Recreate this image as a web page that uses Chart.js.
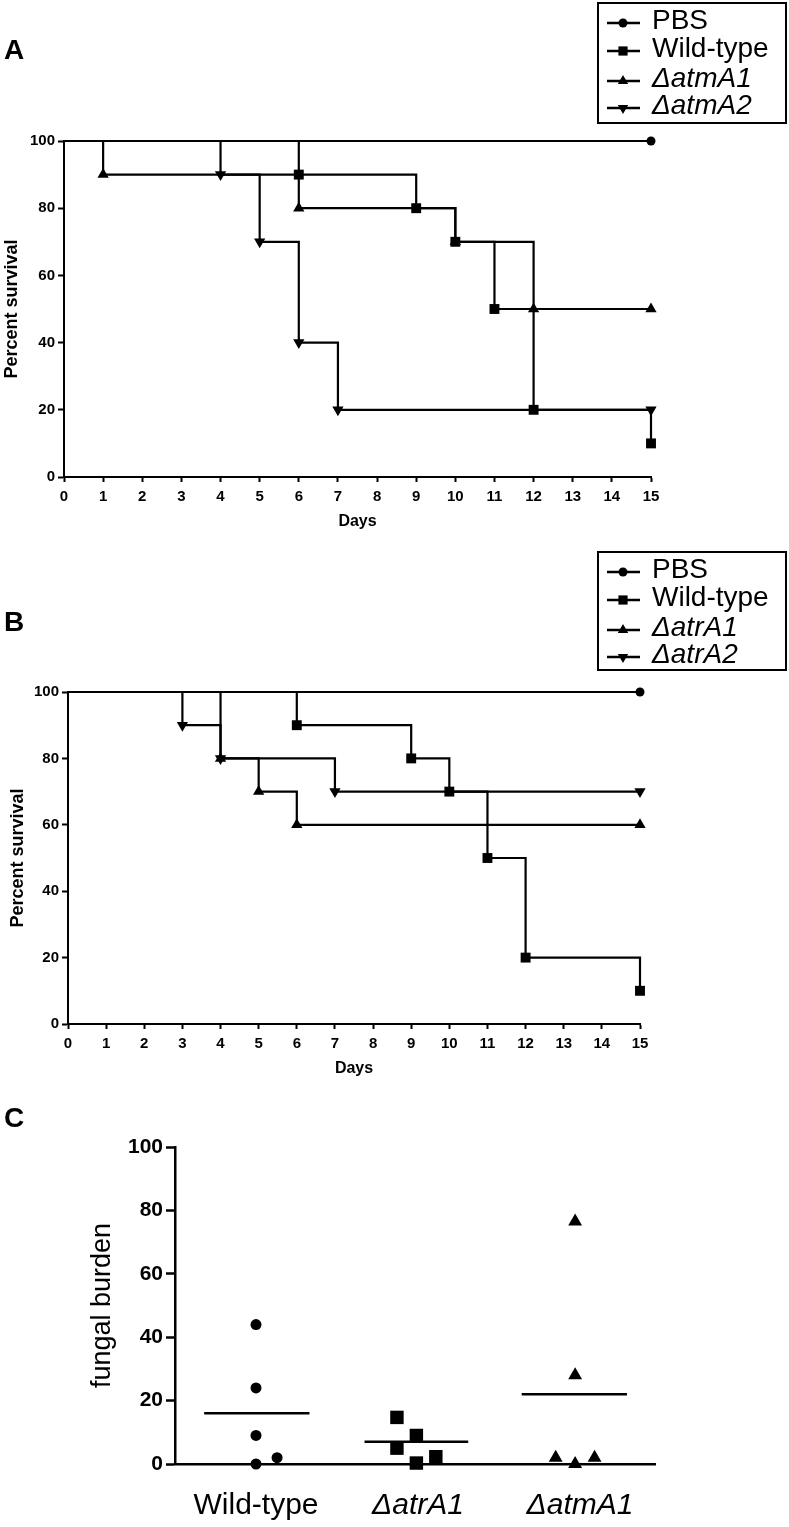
<!DOCTYPE html>
<html>
<head>
<meta charset="utf-8">
<title>Survival and fungal burden</title>
<script src="https://cdn.jsdelivr.net/npm/chart.js@4.4.1/dist/chart.umd.min.js"></script>
<style>
  body { margin: 0; background: #fff; width: 789px; height: 1527px; position: relative; overflow: hidden; }
  canvas { position: absolute; left: 0; }
  .panel { position: absolute; font: bold 28px Arial, "Liberation Sans", sans-serif; line-height: 28px; color: #000; }
</style>
</head>
<body>
<canvas id="chartA" width="789" height="545" style="top:0"></canvas>
<canvas id="chartB" width="789" height="545" style="top:545px"></canvas>
<canvas id="chartC" width="789" height="437" style="top:1090px"></canvas>
<div class="panel" style="left:4px;top:36px">A</div>
<div class="panel" style="left:4px;top:608px">B</div>
<div class="panel" style="left:4px;top:1104px">C</div>
<script>
// panel A: survival, atmA mutants
const daysPbsA = [0, 15];
const survPbsA = [100, 100];
const daysWtA = [0, 6, 9, 10, 11, 12, 15];
const survWtA = [100, 90, 80, 70, 50, 20, 10];
const daysAtmA1 = [0, 1, 6, 10, 12, 15];
const survAtmA1 = [100, 90, 80, 70, 50, 50];
const daysAtmA2 = [0, 4, 5, 6, 7, 15];
const survAtmA2 = [100, 90, 70, 40, 20, 20];
const labelsA = ['PBS', 'Wild-type', '\u0394atmA1', '\u0394atmA2'];

// panel B: survival, atrA mutants
const daysPbsB = [0, 15];
const survPbsB = [100, 100];
const daysWtB = [0, 6, 9, 10, 11, 12, 15];
const survWtB = [100, 90, 80, 70, 50, 20, 10];
const daysAtrA1 = [0, 4, 5, 6, 15];
const survAtrA1 = [100, 80, 70, 60, 60];
const daysAtrA2 = [0, 3, 4, 7, 15];
const survAtrA2 = [100, 90, 80, 70, 70];
const labelsB = ['PBS', 'Wild-type', '\u0394atrA1', '\u0394atrA2'];

const dayMax = 15;
const survivalStep = 20;

// panel C: fungal burden per mouse (x = group slot with jitter)
const groupsC = ['Wild-type', '\u0394atrA1', '\u0394atmA1'];
const groupTicks = [0.5, 1.5, 2.5];
const burdenWt = [44, 24, 9, 0, 2];
const slotWt = [0.5, 0.5, 0.5, 0.5, 0.63];
const burdenAtrA1 = [14.7, 9, 5, 0.3, 2.3];
const slotAtrA1 = [1.37, 1.49, 1.37, 1.49, 1.61];
const burdenAtmA1 = [76.5, 28, 2, 0, 2];
const slotAtmA1 = [2.47, 2.47, 2.35, 2.47, 2.59];
const meanBurden = [16, 7, 22];
const meanFrom = [0.18, 1.17, 2.14];
const meanTo = [0.83, 1.81, 2.79];

const black = '#000';
const fam = 'Arial, "Liberation Sans", Helvetica, sans-serif';
Chart.defaults.font.family = fam;
Chart.defaults.color = black;

// boxed legend with line + marker, drawn on the canvas
const boxLegend = {
  id: 'boxLegend',
  afterDraw(chart, args, opts) {
    if (!opts.box) return;
    const ctx = chart.ctx;
    const b = opts.box;
    ctx.save();
    ctx.strokeStyle = black;
    ctx.fillStyle = black;
    ctx.lineWidth = 2;
    ctx.strokeRect(b.x, b.y, b.w, b.h);
    chart.data.datasets.forEach((ds, i) => {
      const y = b.y + opts.rows[i];
      ctx.beginPath();
      ctx.lineWidth = 2.5;
      ctx.moveTo(b.x + 9, y);
      ctx.lineTo(b.x + 42, y);
      ctx.stroke();
      Chart.helpers.drawPoint(ctx, {
        pointStyle: ds.pointStyle,
        rotation: ds.pointRotation || 0,
        radius: opts.radius[i],
        borderWidth: 0
      }, b.x + 25, y);
      ctx.font = (i > 1 ? 'italic ' : '') + '28px ' + fam;
      ctx.textBaseline = 'alphabetic';
      ctx.textAlign = 'left';
      ctx.fillText(ds.label, b.x + 54, y + 6);
    });
    ctx.restore();
  }
};

function kmSet(label, days, surv, style, r, rot) {
  return {
    label: label,
    data: days.map((d, i) => ({ x: d, y: surv[i] })),
    stepped: 'before',
    borderColor: black,
    backgroundColor: black,
    borderWidth: 2.2,
    pointStyle: style,
    pointRotation: rot || 0,
    pointRadius: days.map((d, i) => (i === 0 ? 0 : r)),
    pointBorderWidth: 0,
    pointHoverRadius: 0,
    clip: false
  };
}

function survivalChart(id, sets, g) {
  return new Chart(document.getElementById(id), {
    type: 'line',
    data: { datasets: sets },
    options: {
      responsive: false,
      animation: false,
      events: [],
      layout: { padding: { left: 0, top: g.top, right: g.right, bottom: 0 } },
      plugins: {
        legend: { display: false },
        tooltip: { enabled: false },
        boxLegend: { box: g.box, rows: [20, 48, 78, 105], radius: [4.5, 6.5, 6, 6] }
      },
      scales: {
        x: {
          type: 'linear', min: 0, max: dayMax,
          ticks: { stepSize: 1, padding: 6, color: black, font: { size: 15, weight: 'bold' } },
          grid: { drawOnChartArea: false, tickLength: 5, tickWidth: 2, tickColor: black },
          border: { color: black, width: 2 },
          title: { display: true, text: 'Days', color: black, font: { size: 16, weight: 'bold' }, padding: { top: 0, bottom: g.daysPad } },
          afterFit: s => { s.height = g.xh; }
        },
        y: {
          min: 0, max: 100,
          ticks: { stepSize: survivalStep, padding: 3, color: black, font: { size: 15, weight: 'bold' } },
          grid: { drawOnChartArea: false, tickLength: 6, tickWidth: 2, tickColor: black },
          border: { color: black, width: 2 },
          title: { display: true, text: 'Percent survival', color: black, font: { size: 18, weight: 'bold' }, padding: { top: g.titlePad, bottom: 0 } },
          afterFit: s => { s.width = g.yw; }
        }
      }
    },
    plugins: [boxLegend]
  });
}

document.addEventListener('DOMContentLoaded', () => {
  survivalChart('chartA', [
    kmSet(labelsA[0], daysPbsA, survPbsA, 'circle', 4.5),
    kmSet(labelsA[1], daysWtA, survWtA, 'rect', 7),
    kmSet(labelsA[2], daysAtmA1, survAtmA1, 'triangle', 6.5),
    kmSet(labelsA[3], daysAtmA2, survAtmA2, 'triangle', 6.5, 180)
  ], { top: 141, right: 138, yw: 64, xh: 68, daysPad: 14, titlePad: 1, box: { x: 598, y: 3, w: 188, h: 120 } });

  survivalChart('chartB', [
    kmSet(labelsB[0], daysPbsB, survPbsB, 'circle', 4.5),
    kmSet(labelsB[1], daysWtB, survWtB, 'rect', 7),
    kmSet(labelsB[2], daysAtrA1, survAtrA1, 'triangle', 6.5),
    kmSet(labelsB[3], daysAtrA2, survAtrA2, 'triangle', 6.5, 180)
  ], { top: 147, right: 149, yw: 68, xh: 66, daysPad: 12, titlePad: 7, box: { x: 598, y: 7, w: 188, h: 118 } });

  const pts = (xs, ys) => xs.map((x, i) => ({ x: x, y: ys[i] }));
  const dots = (label, xs, ys, style, r) => ({
    label: label, data: pts(xs, ys), pointStyle: style, pointRadius: r,
    pointBackgroundColor: black, pointBorderWidth: 0, pointHoverRadius: r, clip: false
  });
  const meanLine = i => ({
    type: 'line',
    data: [{ x: meanFrom[i], y: meanBurden[i] }, { x: meanTo[i], y: meanBurden[i] }],
    borderColor: black, borderWidth: 2.5, pointRadius: 0, showLine: true, clip: false
  });

  new Chart(document.getElementById('chartC'), {
    type: 'scatter',
    data: {
      datasets: [
        dots(groupsC[0], slotWt, burdenWt, 'circle', 5.5),
        dots(groupsC[1], slotAtrA1, burdenAtrA1, 'rect', 9.5),
        dots(groupsC[2], slotAtmA1, burdenAtmA1, 'triangle', 8),
        meanLine(0), meanLine(1), meanLine(2)
      ]
    },
    options: {
      responsive: false,
      animation: false,
      events: [],
      layout: { padding: { left: 0, top: 57, right: 134, bottom: 0 } },
      plugins: { legend: { display: false }, tooltip: { enabled: false } },
      scales: {
        x: {
          type: 'linear', min: 0, max: 2.963,
          afterBuildTicks: s => { s.ticks = groupTicks.map(v => ({ value: v })); },
          ticks: {
            padding: 24, color: black,
            callback: (v, i) => groupsC[i],
            font: c => ({ family: fam, size: 30, style: c.index > 0 ? 'italic' : 'normal' })
          },
          grid: { display: true, drawOnChartArea: false, drawTicks: false },
          border: { color: black, width: 2.5 },
          afterFit: s => { s.height = 63; }
        },
        y: {
          min: 0, max: 100,
          ticks: { stepSize: 20, padding: 3, color: black, font: { size: 21, weight: 'bold' } },
          grid: { drawOnChartArea: false, tickLength: 9, tickWidth: 2.5, tickColor: black },
          border: { color: black, width: 2.5 },
          title: { display: true, text: 'fungal burden', color: black, font: { size: 27 }, padding: { top: 86, bottom: 0 } },
          afterFit: s => { s.width = 175; }
        }
      }
    }
  });
});
</script>
</body>
</html>
